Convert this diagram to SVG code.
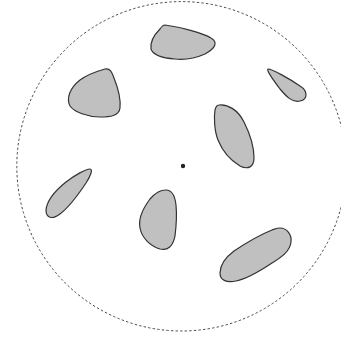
<svg xmlns="http://www.w3.org/2000/svg" width="341" height="341" viewBox="0 0 341 341">
<style>
.blob{fill:#c0c0c0;stroke:#333;stroke-width:1.2;stroke-linejoin:round}
.bound{fill:none;stroke:#333;stroke-width:0.9;stroke-dasharray:2.4,2.2}
</style>
<rect width="341" height="341" fill="#fff"/>
<circle id="boundary" class="bound" cx="181.5" cy="166.3" r="164.7"/>
<g id="blob1"><path class="blob" d="M165,25 C180,27 203,33 211,38 C218,42 216,48 205,54 C196,58 185,60 175,59 C162,58 153,55 151,49 C150,42 155,34 160,29 C162,26 163,25 165,25 Z"/></g>
<g id="blob2"><path class="blob" d="M105,69 C110,68 112,72 114,78 C118,88 121,98 120,108 C119,116 110,117 100,117 C88,117 74,112 70,106 C66,98 70,88 80,80 C88,74 98,71 105,69 Z"/></g>
<g id="blob3"><path class="blob" d="M268,69 C272,69 290,79 300,86 C308,91 308,99 300,101 C292,103 286,96 280,89 C274,81 266,70 268,69 Z"/></g>
<g id="blob4"><path class="blob" d="M219,105 C228,104 238,110 244,122 C250,134 254,148 254,158 C254,167 248,170 240,166 C230,160 222,150 218,140 C214,130 214,116 215,110 C216,106 217,105 219,105 Z"/></g>
<g id="blob5"><path class="blob" d="M90,169 C93,169 91,175 86,183 C78,195 68,208 60,214 C52,220 46,218 46,210 C47,200 56,190 66,182 C75,175 86,169 90,169 Z"/></g>
<g id="blob6"><path class="blob" d="M166,190 C172,190 175,196 176,205 C177,215 176,228 175,236 C173,246 168,251 160,249 C150,246 142,238 140,228 C138,218 144,207 150,199 C155,193 160,190 166,190 Z"/></g>
<g id="blob7"><path class="blob" d="M280,228 C287,228 292,235 291,242 C290,251 282,257 272,263 C260,271 246,279 236,281 C226,283 220,280 220,273 C220,264 226,257 234,251 C246,243 262,234 272,230 C275,229 277,228 280,228 Z"/></g>
<g id="center"><circle cx="183" cy="166" r="2.2" fill="#222"/></g>
</svg>
